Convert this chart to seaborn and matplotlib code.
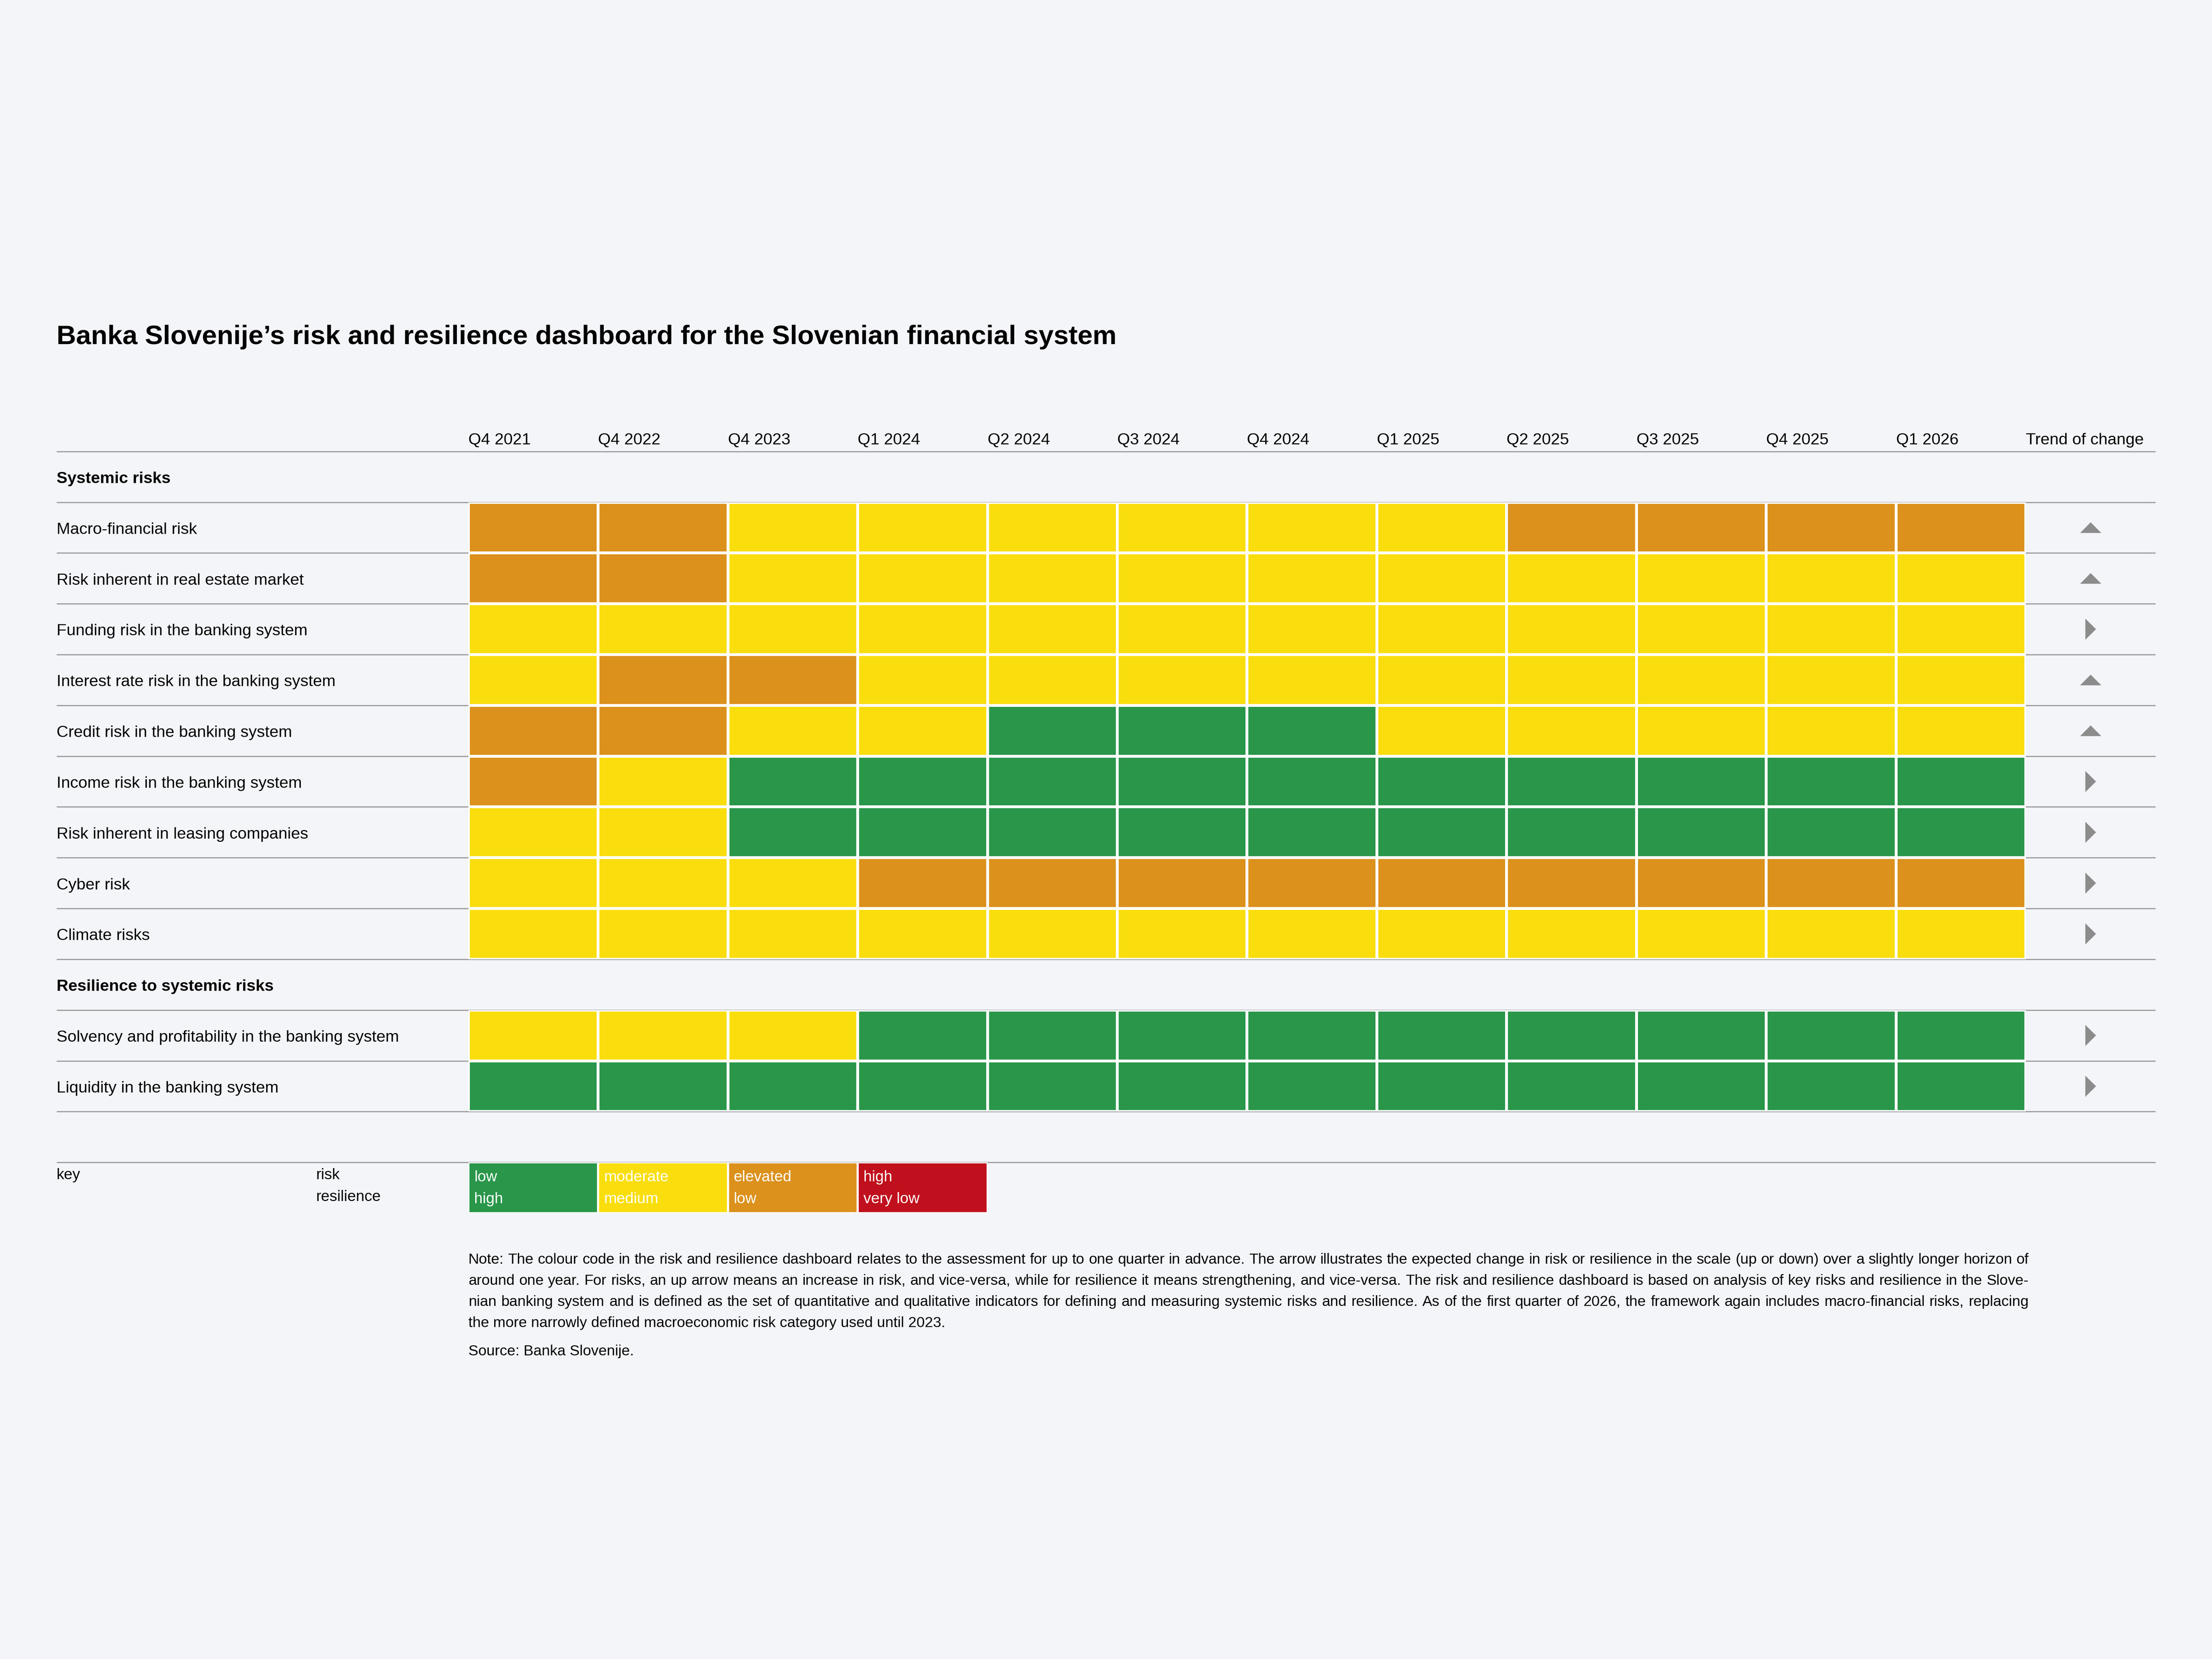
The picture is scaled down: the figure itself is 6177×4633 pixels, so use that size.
import numpy as np
import pandas as pd
import matplotlib
matplotlib.use('Agg')
import matplotlib.pyplot as plt
from matplotlib.colors import ListedColormap
from matplotlib.patches import Polygon
import seaborn as sns

# ---- data ----
quarters = ['Q4 2021', 'Q4 2022', 'Q4 2023', 'Q1 2024', 'Q2 2024', 'Q3 2024',
            'Q4 2024', 'Q1 2025', 'Q2 2025', 'Q3 2025', 'Q4 2025', 'Q1 2026']

risk_rows = ['Macro-financial risk',
             'Risk inherent in real estate market',
             'Funding risk in the banking system',
             'Interest rate risk in the banking system',
             'Credit risk in the banking system',
             'Income risk in the banking system',
             'Risk inherent in leasing companies',
             'Cyber risk',
             'Climate risks']
# 1 = low, 2 = moderate, 3 = elevated, 4 = high
risk_levels = [
    [3, 3, 2, 2, 2, 2, 2, 2, 3, 3, 3, 3],
    [3, 3, 2, 2, 2, 2, 2, 2, 2, 2, 2, 2],
    [2, 2, 2, 2, 2, 2, 2, 2, 2, 2, 2, 2],
    [2, 3, 3, 2, 2, 2, 2, 2, 2, 2, 2, 2],
    [3, 3, 2, 2, 1, 1, 1, 2, 2, 2, 2, 2],
    [3, 2, 1, 1, 1, 1, 1, 1, 1, 1, 1, 1],
    [2, 2, 1, 1, 1, 1, 1, 1, 1, 1, 1, 1],
    [2, 2, 2, 3, 3, 3, 3, 3, 3, 3, 3, 3],
    [2, 2, 2, 2, 2, 2, 2, 2, 2, 2, 2, 2],
]
risk_trend = ['up', 'up', 'right', 'up', 'up', 'right', 'right', 'right', 'right']

resilience_rows = ['Solvency and profitability in the banking system',
                   'Liquidity in the banking system']
# 1 = high, 2 = medium, 3 = low, 4 = very low
resilience_levels = [
    [2, 2, 2, 1, 1, 1, 1, 1, 1, 1, 1, 1],
    [1, 1, 1, 1, 1, 1, 1, 1, 1, 1, 1, 1],
]
resilience_trend = ['right', 'right']

key_levels = [1, 2, 3, 4]
key_risk = ['low', 'moderate', 'elevated', 'high']
key_resilience = ['high', 'medium', 'low', 'very low']
level_colors = ['#29964a', '#f9dd0c', '#db911c', '#c0101d']

title = 'Banka Slovenije\u2019s risk and resilience dashboard for the Slovenian financial system'
note_lines = [
    'Note: The colour code in the risk and resilience dashboard relates to the assessment for up to one quarter in advance. The arrow illustrates the expected change in risk or resilience in the scale (up or down) over a slightly longer horizon of',
    'around one year. For risks, an up arrow means an increase in risk, and vice-versa, while for resilience it means strengthening, and vice-versa. The risk and resilience dashboard is based on analysis of key risks and resilience in the Slove-',
    'nian banking system and is defined as the set of quantitative and qualitative indicators for defining and measuring systemic risks and resilience. As of the first quarter of 2026, the framework again includes macro-financial risks, replacing',
    'the more narrowly defined macroeconomic risk category used until 2023.',
]
source = 'Source: Banka Slovenije.'

plt.rcParams['font.family'] = ['Liberation Sans', 'DejaVu Sans']

bg = '#f3f5f9'
line_col = '#9c9c9c'
arrow_col = '#8c8c8c'

# layout in units of a 1568 x 1176 canvas
W, H = 1568.0, 1176.0
x_lab, x_grid, col_w, x_end = 40, 332, 92, 1528
y_top, row_h = 320, 36
note_right = 1438

fig = plt.figure(figsize=(6177 / 400, 4633 / 400), dpi=400, facecolor=bg)
ax = fig.add_axes([0, 0, 1, 1])
ax.set_xlim(0, W)
ax.set_ylim(H, 0)
ax.axis('off')

cmap = ListedColormap(level_colors)
grid_right = x_grid + col_w * len(quarters)


def cell_block(values, index, y0, lw=1.4):
    """Draw one block of coloured cells with its top edge at canvas y0."""
    data = pd.DataFrame(values, index=index)
    n_r, n_c = data.shape
    bax = fig.add_axes([x_grid / W, 1 - (y0 + row_h * n_r) / H,
                        col_w * n_c / W, row_h * n_r / H])
    sns.heatmap(data, ax=bax, cmap=cmap, vmin=0.5, vmax=4.5, cbar=False,
                linewidths=lw, linecolor='white',
                xticklabels=False, yticklabels=False)
    bax.axis('off')
    return bax


# sections: (header, rows, levels, trend)
sections = [('Systemic risks', risk_rows, risk_levels, risk_trend),
            ('Resilience to systemic risks', resilience_rows, resilience_levels, resilience_trend)]

n_rows = sum(1 + len(s[1]) for s in sections)
grid_bottom = y_top + row_h * n_rows

# horizontal rules
rule_ys = [y_top + row_h * k for k in range(n_rows + 1)] + [grid_bottom + row_h]
ax.hlines(rule_ys, x_lab, x_end, color=line_col, lw=0.6, zorder=1)

# title and headers
ax.text(x_lab, 239, title, fontsize=13.55, fontweight='bold', va='center')
for j, q in enumerate(quarters):
    ax.text(x_grid + col_w * j, 312, q, fontsize=8.2, va='center')
ax.text(grid_right, 312, 'Trend of change', fontsize=8.2, va='center')

x_arrow = (grid_right + x_end) / 2
half_base, half_h = 7.5, 3.8

y = y_top
for header, names, levels, trend in sections:
    ax.text(x_lab, y + row_h / 2 + 1.5, header, fontsize=8.2, va='center', fontweight='bold')
    y += row_h
    cell_block(levels, names, y)
    for i, name in enumerate(names):
        yc = y + row_h * i + row_h / 2
        ax.text(x_lab, yc + 1.5, name, fontsize=8.2, va='center')
        if trend[i] == 'up':
            tri = [(x_arrow - half_base, yc + half_h), (x_arrow + half_base, yc + half_h),
                   (x_arrow, yc - half_h)]
        else:
            tri = [(x_arrow - half_h, yc - half_base), (x_arrow - half_h, yc + half_base),
                   (x_arrow + half_h, yc)]
        ax.add_patch(Polygon(tri, closed=True, facecolor=arrow_col, edgecolor='none', zorder=3))
    y += row_h * len(names)

# key
y_key = grid_bottom + row_h
kax = cell_block([key_levels], ['key'], y_key, lw=0.8)
ax.text(x_lab, y_key + 9, 'key', fontsize=7.7, va='center')
ax.text(224, y_key + 9, 'risk', fontsize=7.7, va='center')
ax.text(224, y_key + 24.5, 'resilience', fontsize=7.7, va='center')
for j in range(len(key_levels)):
    kax.text(x_grid + col_w * j + 4, y_key + 10.5, key_risk[j], fontsize=7.7, va='center',
             color='white', transform=ax.transData)
    kax.text(x_grid + col_w * j + 4, y_key + 26, key_resilience[j], fontsize=7.7, va='center',
             color='white', transform=ax.transData)

# note (justified like the original) and source
note_fs = 7.45
renderer = fig.canvas.get_renderer()
px_to_x = W / fig.bbox.width


def text_width(s):
    t = ax.text(0, 0, s, fontsize=note_fs)
    w = t.get_window_extent(renderer).width * px_to_x
    t.remove()
    return w


for k, line in enumerate(note_lines):
    yk = 893 + 15 * k
    if k == len(note_lines) - 1:
        ax.text(x_grid, yk, line, fontsize=note_fs, va='center')
        continue
    words = line.split(' ')
    widths = [text_width(w) for w in words]
    gap = (note_right - x_grid - sum(widths)) / (len(words) - 1)
    xw = x_grid
    for w, wd in zip(words, widths):
        ax.text(xw, yk, w, fontsize=note_fs, va='center')
        xw += wd + gap
ax.text(x_grid, 958, source, fontsize=note_fs, va='center')

fig.savefig('out.png', dpi=400, facecolor=bg)
